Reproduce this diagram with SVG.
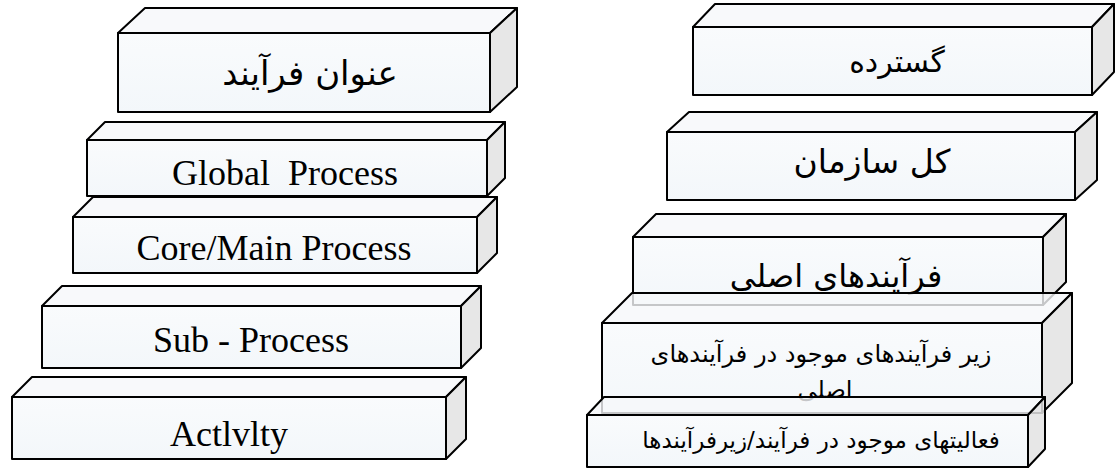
<svg xmlns="http://www.w3.org/2000/svg" width="1118" height="469" viewBox="0 0 1118 469">
  <defs>
    <linearGradient id="frontFill" x1="0" y1="0" x2="0" y2="1">
      <stop offset="0" stop-color="#f8fafc"/>
      <stop offset="1" stop-color="#f0f5f9"/>
    </linearGradient>
    <style>
      .front { fill: url(#frontFill); fill-opacity: 0.8; stroke: #000; stroke-width: 2; stroke-linejoin: round; }
      .top { fill: #f6f8fa; fill-opacity: 0.8; stroke: #000; stroke-width: 2; stroke-linejoin: round; }
      .side { fill: #e3e3e3; fill-opacity: 0.85; stroke: #000; stroke-width: 2; stroke-linejoin: round; }
      .en { font-family: "Liberation Serif", "Times New Roman", serif; font-size: 36px; fill: #000; text-anchor: middle; white-space: pre; }
      .fa { font-family: "DejaVu Sans", "Noto Sans", sans-serif; fill: #000; text-anchor: middle; direction: rtl; }
    </style>
  </defs>
  <rect width="1118" height="469" fill="#fff"/>

  <!-- left column: process levels -->
  <g id="title-process">
    <polygon class="top" points="118,33 145,8 517,8 490,33"/>
    <polygon class="side" points="490,33 517,8 517,87 490,112"/>
    <rect class="front" x="118" y="33" width="372" height="79"/>
    <text class="fa" x="310" y="85" font-size="34">عنوان فرآیند</text>
  </g>
  <g id="global-process">
    <polygon class="top" points="87,140 105,122 505,122 487,140"/>
    <polygon class="side" points="487,140 505,122 505,178 487,196"/>
    <rect class="front" x="87" y="140" width="400" height="56"/>
    <text class="en" x="285" y="185">Global  Process</text>
  </g>
  <g id="core-process">
    <polygon class="top" points="73,217 93,197 497,197 477,217"/>
    <polygon class="side" points="477,217 497,197 497,253 477,273"/>
    <rect class="front" x="73" y="217" width="404" height="56"/>
    <text class="en" x="274" y="260">Core/Main Process</text>
  </g>
  <g id="sub-process">
    <polygon class="top" points="42,306 62,286 481,286 461,306"/>
    <polygon class="side" points="461,306 481,286 481,348 461,368"/>
    <rect class="front" x="42" y="306" width="419" height="62"/>
    <text class="en" x="251" y="352">Sub - Process</text>
  </g>
  <g id="activity">
    <polygon class="top" points="12,397 32,377 466,377 446,397"/>
    <polygon class="side" points="446,397 466,377 466,439 446,459"/>
    <rect class="front" x="12" y="397" width="434" height="62"/>
    <text class="en" x="229" y="446">Actlvlty</text>
  </g>

  <!-- right column: scope of each level -->
  <g id="scope">
    <polygon class="top" points="693,27 715,4 1114,4 1092,27"/>
    <polygon class="side" points="1092,27 1114,4 1114,72 1092,95"/>
    <rect class="front" x="693" y="27" width="399" height="68"/>
    <text class="fa" x="897" y="72" font-size="30">گسترده</text>
  </g>
  <g id="whole-org">
    <polygon class="top" points="667,132 689,112 1097,112 1075,132"/>
    <polygon class="side" points="1075,132 1097,112 1097,180 1075,200"/>
    <rect class="front" x="667" y="132" width="408" height="68"/>
    <text class="fa" x="872" y="173" font-size="33">کل سازمان</text>
  </g>
  <g id="main-processes">
    <polygon class="top" points="633,237 656,214 1066,214 1043,237"/>
    <polygon class="side" points="1043,237 1066,214 1066,282 1043,305"/>
    <rect class="front" x="633" y="237" width="410" height="68"/>
    <text class="fa" x="836" y="287" font-size="32">فرآیندهای اصلی</text>
  </g>
  <g id="sub-processes">
    <polygon class="top" points="602,323 632,293 1072,293 1042,323"/>
    <polygon class="side" points="1042,323 1072,293 1072,383 1042,413"/>
    <rect class="front" x="602" y="323" width="440" height="90"/>
    <text class="fa" x="821" y="362" font-size="24">زیر فرآیندهای موجود در فرآیندهای</text>
    <text class="fa" x="825" y="398" font-size="24">اصلی</text>
  </g>
  <g id="activities">
    <polygon class="top" points="587,415 604,397 1045,397 1028,415"/>
    <polygon class="side" points="1028,415 1045,397 1045,449 1028,467"/>
    <rect class="front" x="587" y="415" width="441" height="52"/>
    <text class="fa" x="821" y="448" font-size="23">فعالیتهای موجود در فرآیند/زیرفرآیندها</text>
  </g>

  <!-- no connectors in this figure -->
  <g id="connectors"/>
</svg>
